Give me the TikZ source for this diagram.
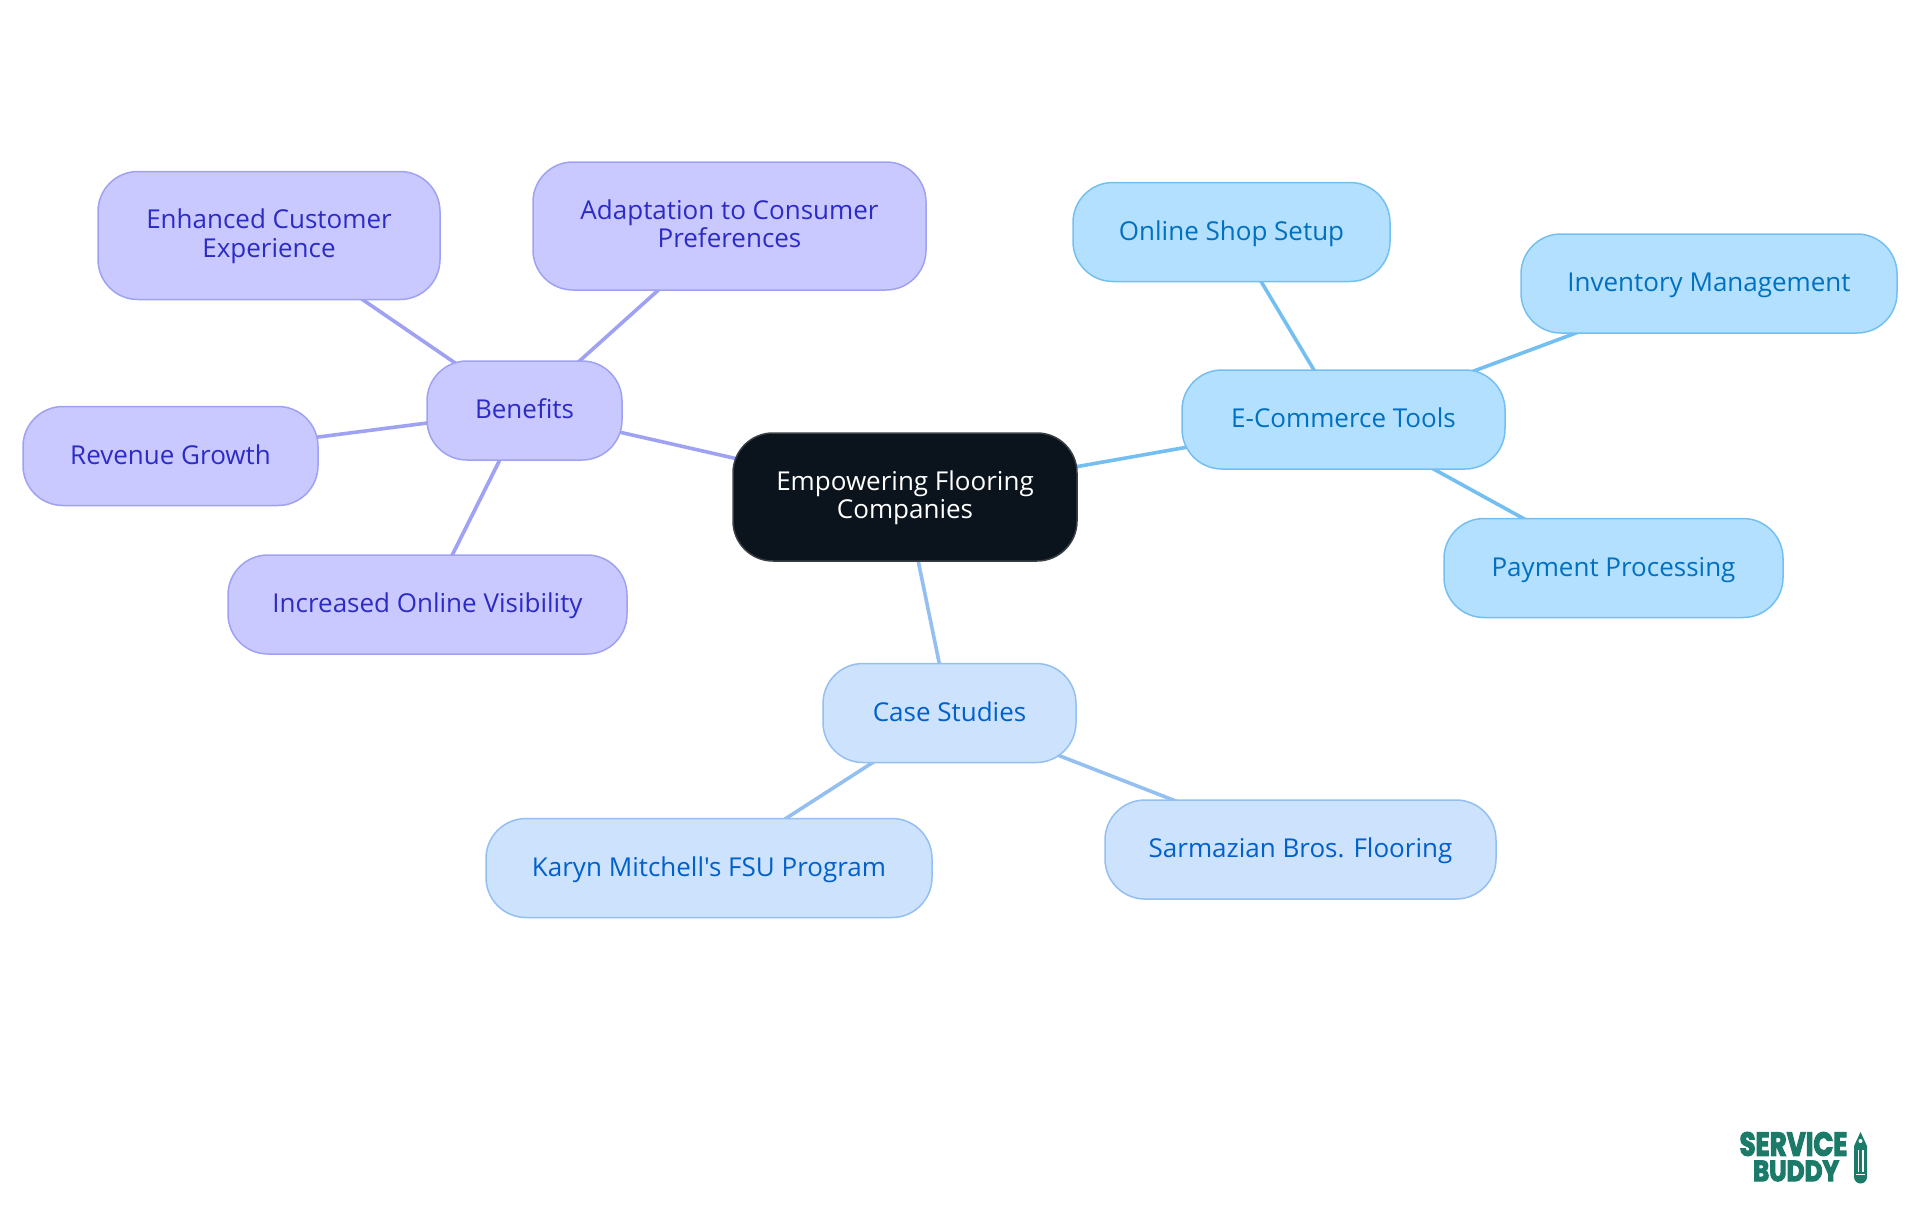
\documentclass[tikz,border=0pt]{standalone}
\usepackage{fontspec}
\newfontfamily\bodyfont{Open Sans}
\newfontfamily\logofont[BoldFeatures={FakeBold=4}]{Poppins}
\usetikzlibrary{backgrounds}
\definecolor{rootfill}{HTML}{0B131C}
\definecolor{rootline}{HTML}{3A4047}
\definecolor{bfill}{HTML}{C9C9FF}
\definecolor{bline}{HTML}{9FA1F3}
\definecolor{btext}{HTML}{2D2BC6}
\definecolor{efill}{HTML}{B4E0FF}
\definecolor{eline}{HTML}{74BFF2}
\definecolor{etext}{HTML}{0070C0}
\definecolor{cfill}{HTML}{CDE3FD}
\definecolor{cline}{HTML}{94BFF1}
\definecolor{ctext}{HTML}{0060CC}
\definecolor{logogreen}{HTML}{1B7B68}
\newcommand{\ftop}{\rule{0pt}{11pt}}
\newcommand{\fbot}{\rule[-3.5pt]{0pt}{3.5pt}}
\tikzset{
  mind/.style={rectangle,rounded corners=20pt,line width=.75pt,inner sep=0pt,align=center,
    font=\bodyfont\fontsize{13}{14.4}\selectfont,minimum width=#1},
  short/.style={mind=#1,minimum height=49.5pt,text height=11pt,text depth=3pt},
  tall/.style={mind=#1,minimum height=64pt},
  rootnode/.style={tall=#1,draw=rootline,fill=rootfill,text=white},
  bnode/.style={draw=bline,fill=bfill,text=btext},
  enode/.style={draw=eline,fill=efill,text=etext},
  cnode/.style={draw=cline,fill=cfill,text=ctext},
  link/.style={line width=1.8pt},
  logotext/.style={text=logogreen,inner sep=0pt},
}
\begin{document}
\begin{tikzpicture}[x=.5pt,y=-.5pt]
\useasboundingbox (0,0) rectangle (1920,1215);
\node[rootnode=172pt] (root) at (905,497) {\ftop Empowering Flooring\\Companies\fbot};
\node[short=97.5pt,bnode] (benefits) at (524.5,410.5) {Benefits};
\node[tall=196.5pt,bnode] (adapt) at (729.5,226) {\ftop Adaptation to Consumer\\Preferences\fbot};
\node[tall=171pt,bnode] (enh) at (269,235.5) {\ftop Enhanced Customer\\Experience\fbot};
\node[short=147.5pt,bnode] (rev) at (170.5,456) {Revenue Growth};
\node[short=199.5pt,bnode] (vis) at (427.5,604.5) {Increased Online Visibility};
\node[short=161.5pt,enode] (ecom) at (1343.5,419.5) {E-Commerce Tools};
\node[short=158.5pt,enode] (shop) at (1231.5,232) {Online Shop Setup};
\node[short=188pt,enode] (inv) at (1709,283.5) {Inventory Management};
\node[short=169.5pt,enode] (pay) at (1613.5,568) {Payment Processing};
\node[short=126.5pt,cnode] (case) at (949.5,713) {Case Studies};
\node[short=223pt,cnode] (karyn) at (709,868) {Karyn Mitchell's FSU Program};
\node[short=195.5pt,cnode] (sarm) at (1300.5,849.5) {Sarmazian Bros. Flooring};
\begin{pgfonlayer}{background}
\draw[link,draw=bline] (root.center) -- (benefits.center);
\foreach \n in {adapt,enh,rev,vis} \draw[link,draw=bline] (benefits.center) -- (\n.center);
\draw[link,draw=eline] (root.center) -- (ecom.center);
\foreach \n in {shop,inv,pay} \draw[link,draw=eline] (ecom.center) -- (\n.center);
\draw[link,draw=cline] (root.center) -- (case.center);
\foreach \n in {karyn,sarm} \draw[link,draw=cline] (case.center) -- (\n.center);
\end{pgfonlayer}
% logo
\node[logotext] (logoa) at (1793.5,1144) {\scalebox{.79}[1]{\logofont\bfseries\fontsize{16.5}{16.5}\selectfont SERVICE}};
\node[logotext] (logob) at (1796,1171) {\scalebox{.85}[1]{\logofont\bfseries\fontsize{14.5}{14.5}\selectfont BUDDY}};
\fill[logogreen] (1860.5,1132) -- (1867,1146) -- (1867,1177) arc[start angle=0,end angle=180,radius=6.5] -- (1854,1146) -- cycle;
\fill[white] (1857.5,1150) rectangle (1859.3,1172);
\fill[white] (1861.7,1150) rectangle (1863.5,1172);
\fill[white] (1856,1173.5) rectangle (1865,1175);
\fill[white] (1860.5,1141) circle[radius=2];
\end{tikzpicture}
\end{document}
